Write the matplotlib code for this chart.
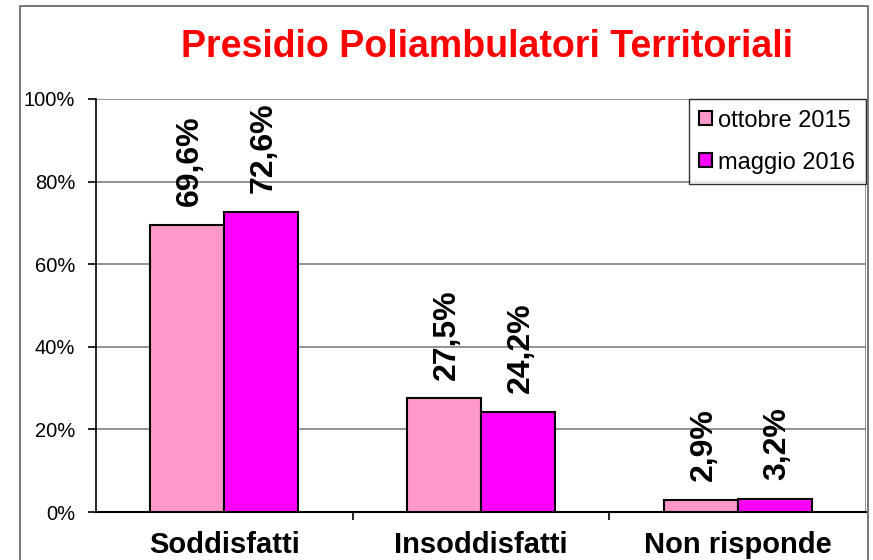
import matplotlib.pyplot as plt
import matplotlib.patches as mpatches
import numpy as np

plt.rcParams['font.family'] = ['Liberation Sans', 'DejaVu Sans']

categories = ['Soddisfatti', 'Insoddisfatti', 'Non risponde']
series_names = ['ottobre 2015', 'maggio 2016']
ottobre_2015 = [69.6, 27.5, 2.9]
maggio_2016 = [72.6, 24.2, 3.2]
yticks = [0, 20, 40, 60, 80, 100]

W, H = 873, 560
fig = plt.figure(figsize=(W / 100, H / 100), dpi=100)

# outer chart frame
fig.patches.append(mpatches.Rectangle((20 / W, -0.1), 848 / W, 1.1 - 6 / H,
                                      transform=fig.transFigure, fill=False,
                                      edgecolor='#606060', linewidth=1.2))

ax = fig.add_axes([96 / W, 1 - 512 / H, 770 / W, 413 / H])

x = np.arange(len(categories))
bw = 0.288
colors = ['#FF99CC', '#FF00FF']
for i, (vals, c) in enumerate(zip([ottobre_2015, maggio_2016], colors)):
    pos = x + (i - 0.5) * bw
    ax.bar(pos, vals, bw, color=c, edgecolor='black', linewidth=1.5,
           label=series_names[i], zorder=3)
    for p, v in zip(pos, vals):
        ax.annotate(f'{v:.1f}%'.replace('.', ','), (p, v), xytext=(2, 13.5),
                    textcoords='offset points', rotation=90, ha='center',
                    va='bottom', fontsize=23, fontweight='bold')

ax.set_xlim(-0.5, 2.5)
ax.set_ylim(0, 100)
ax.set_yticks(yticks)
ax.set_yticklabels([f'{t}%' for t in yticks], fontsize=14.5)
ax.yaxis.grid(True, color='#808080', linewidth=1.2, zorder=0)
ax.set_xticks([0.5, 1.5], minor=False)
ax.set_xticklabels([])
ax.set_xticks(x, minor=True)
ax.set_xticklabels(categories, minor=True, fontsize=21, fontweight='bold')
ax.tick_params(axis='x', which='minor', length=0, pad=14)
ax.tick_params(axis='x', which='major', length=6, width=1.2, direction='out')
ax.tick_params(axis='y', length=6, width=1.2, direction='out', pad=9)
for s in ['top', 'right']:
    ax.spines[s].set_visible(False)
ax.spines['left'].set_linewidth(1.2)
ax.spines['bottom'].set_linewidth(1.5)
ax.axvline(2.5, color='#808080', linewidth=1.2)

leg = ax.legend(loc='upper right', bbox_to_anchor=(1.0, 1.0), fontsize=17,
                frameon=True, fancybox=False, edgecolor='black',
                handlelength=0.55, handleheight=0.55, handletextpad=0.25,
                labelspacing=0.85, borderpad=0.45, borderaxespad=0)
leg.get_frame().set_linewidth(1.0)

fig.text(487 / W, 1 - 47 / H, 'Presidio Poliambulatori Territoriali',
         color='#FF0000', fontsize=27, fontweight='bold', ha='center',
         va='center')

fig.savefig('out.png', dpi=100)
